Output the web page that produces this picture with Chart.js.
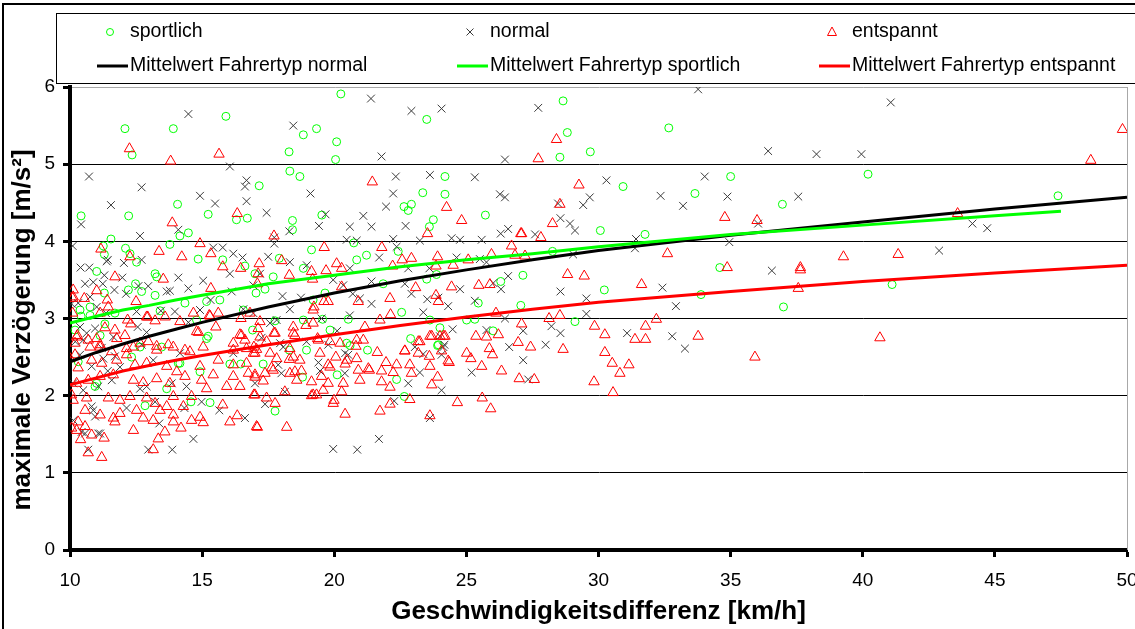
<!DOCTYPE html>
<html>
<head>
<meta charset="utf-8">
<script src="https://cdn.jsdelivr.net/npm/chart.js@4.4.1/dist/chart.umd.min.js"></script>
<style>
html, body { margin: 0; padding: 0; background: #fff; }
#wrap { position: relative; width: 1135px; height: 629px; overflow: hidden; }
#frame { position: absolute; left: 2px; top: 3px; width: 1200px; height: 700px; border: 2px solid #000; pointer-events: none; }
</style>
</head>
<body>
<div id="wrap">
  <canvas id="chart" width="1135" height="629"></canvas>
  <div id="frame"></div>
</div>
<script>
// measured points [x = Geschwindigkeitsdifferenz, y = maximale Verzoegerung]
const sportlich = [
  [10.19,2.85],[10.38,3.11],[10.42,4.33],[10.76,3.15],[11.01,3.61],[11.01,2.16],[11.14,2.78],[11.26,3.94],[11.30,3.33],[11.55,4.03],
  [12.08,5.46],[12.10,3.91],[12.21,3.37],[12.22,4.33],[12.27,3.84],[12.33,2.50],[12.35,5.12],[12.48,3.45],[12.52,3.73],[12.65,2.63],
  [12.71,3.35],[12.84,1.87],[13.22,3.58],[13.22,3.30],[13.28,3.54],[13.41,3.10],[13.66,2.09],[13.78,3.96],[13.91,5.46],[14.07,4.48],
  [14.16,4.07],[14.16,2.42],[14.35,3.20],[14.48,4.11],[14.58,1.92],[14.79,2.98],[14.85,3.77],[14.92,2.31],[15.17,3.22],[15.17,2.74],
  [15.23,4.35],[15.30,1.91],[15.67,3.24],[15.78,3.76],[15.90,5.62],[16.05,2.41],[16.30,4.28],[16.46,2.41],[16.56,3.11],[16.62,3.68],
  [16.71,4.30],[17.04,3.33],[17.16,4.72],[17.31,2.41],[17.38,3.38],[17.69,3.54],[17.76,2.97],[17.76,1.80],[17.92,3.78],[18.29,5.16],
  [18.30,2.59],[18.32,4.91],[18.42,4.27],[18.42,4.15],[18.70,4.84],[18.80,2.24],[18.83,5.38],[18.83,3.65],[18.83,2.98],[18.95,2.59],
  [19.14,3.89],[19.20,3.24],[19.33,5.46],[19.53,4.34],[19.56,2.99],[19.65,3.33],[19.84,2.85],[20.05,5.06],[20.09,5.29],[20.11,2.27],
  [20.25,5.91],[20.47,2.68],[20.53,2.99],[20.60,2.65],[20.74,3.98],[20.85,3.76],[21.22,3.82],[21.26,2.59],[21.85,3.45],[22.36,2.21],
  [22.42,3.87],[22.55,3.08],[22.64,4.45],[22.65,1.99],[22.80,4.40],[22.89,2.74],[22.92,4.48],[23.35,4.63],[23.50,5.58],[23.50,3.51],
  [23.60,4.19],[23.62,2.98],[23.75,4.28],[23.87,3.57],[23.91,2.65],[24.00,2.88],[24.19,4.84],[24.19,4.61],[25.01,2.98],[25.32,2.99],
  [25.45,3.20],[25.72,4.34],[26.01,2.84],[26.30,3.48],[27.06,3.17],[27.14,3.56],[28.26,3.87],[28.54,5.09],[28.66,5.82],[28.82,5.41],
  [29.11,2.96],[29.69,5.16],[30.07,4.14],[30.22,3.37],[30.93,4.71],[31.76,4.09],[32.66,5.47],[33.65,4.62],[33.88,3.31],[34.59,3.66],
  [35.00,4.84],[36.96,4.48],[37.00,3.15],[40.20,4.87],[41.11,3.44],[47.39,4.59],
  [10.31,2.44],[10.95,2.12],[13.47,2.63],[14.10,2.42],[11.30,3.83],[10.76,3.04],[10.42,3.03],[11.70,3.07],[11.32,2.93],[15.23,2.77],
  [17.00,3.58],[16.91,2.85],[23.94,2.66]
];

const normal = [
  [10.06,3.19],[10.10,3.94],[10.12,2.16],[10.13,1.68],[10.31,3.20],[10.38,2.89],[10.38,2.53],[10.40,3.66],[10.42,4.22],[10.44,1.53],
  [10.50,2.07],[10.57,3.45],[10.57,1.51],[10.63,2.81],[10.69,1.30],[10.72,4.84],[10.73,3.66],[10.76,3.28],[10.82,2.38],[10.82,1.86],
  [10.88,3.47],[10.88,1.81],[10.95,2.87],[10.95,1.73],[11.01,3.15],[11.07,2.12],[11.07,1.51],[11.14,1.51],[11.24,3.45],[11.26,2.48],
  [11.30,3.56],[11.36,3.07],[11.39,3.74],[11.43,3.76],[11.43,2.32],[11.55,4.47],[11.58,2.20],[11.64,2.76],[11.68,3.37],[11.70,2.51],
  [11.89,2.37],[11.98,3.53],[12.04,3.72],[12.12,3.32],[12.14,1.84],[12.52,3.09],[12.56,2.89],[12.59,3.42],[12.65,4.07],[12.65,2.09],
  [12.71,4.70],[12.71,3.76],[12.71,2.66],[12.90,2.82],[12.90,2.12],[12.96,3.42],[12.96,1.30],[13.15,2.46],[13.22,1.92],[13.38,1.64],
  [13.44,3.10],[13.66,3.35],[13.78,3.36],[13.85,2.16],[13.87,1.30],[13.97,3.09],[14.10,4.15],[14.10,3.53],[14.16,2.55],[14.33,1.84],
  [14.41,2.12],[14.48,5.65],[14.48,3.39],[14.48,2.95],[14.67,1.44],[14.92,4.59],[14.92,3.11],[14.98,1.92],[15.04,3.49],[15.32,3.24],
  [15.42,3.92],[15.49,4.49],[15.65,1.81],[15.78,3.92],[16.05,4.97],[16.05,3.58],[16.12,3.35],[16.18,3.84],[16.18,2.55],[16.53,3.79],
  [16.56,3.12],[16.62,4.71],[16.62,1.71],[16.68,4.79],[16.68,4.52],[16.94,3.43],[17.00,2.16],[17.19,3.58],[17.38,1.89],[17.44,4.37],
  [17.50,3.80],[17.57,2.94],[17.73,4.05],[17.73,3.97],[17.82,2.98],[17.88,2.40],[17.95,2.68],[18.00,2.29],[18.07,2.63],[18.13,2.05],
  [18.30,4.13],[18.32,3.12],[18.45,5.50],[18.95,2.70],[18.96,3.69],[19.10,4.62],[19.42,4.20],[19.40,2.43],[19.46,2.32],[19.52,3.00],
  [19.67,4.35],[19.77,2.66],[19.96,3.50],[19.96,1.31],[20.34,3.43],[20.40,2.29],[20.41,2.55],[20.47,4.02],[20.53,2.53],[20.59,4.19],
  [20.59,3.65],[20.59,3.04],[20.87,1.30],[20.97,3.26],[21.10,4.33],[21.39,5.85],[21.41,4.19],[21.41,3.48],[21.41,3.19],[21.69,1.44],
  [21.70,3.79],[21.79,5.10],[21.96,4.45],[22.23,4.62],[22.23,4.03],[22.27,1.93],[22.33,4.84],[22.67,3.45],[22.70,4.20],[22.80,3.65],
  [22.80,2.16],[22.92,5.69],[22.92,3.32],[23.05,2.63],[23.24,4.01],[23.24,2.30],[23.37,3.08],[23.37,2.54],[23.52,3.25],[23.60,3.65],
  [23.62,4.86],[23.62,1.71],[24.06,5.72],[24.06,2.53],[24.06,2.07],[24.13,2.63],[24.17,2.66],[24.31,3.16],[24.44,4.04],[24.48,2.86],
  [24.63,3.79],[24.76,4.02],[24.76,3.38],[25.20,2.30],[25.32,4.83],[25.32,3.23],[25.51,3.77],[25.58,4.02],[25.76,3.73],[25.76,2.85],
  [26.02,3.46],[26.27,4.61],[26.30,4.10],[26.31,3.38],[26.46,5.06],[26.46,4.57],[26.46,3.00],[26.58,4.16],[26.58,3.55],[26.62,2.63],
  [27.15,2.84],[27.15,2.46],[27.34,2.21],[27.60,4.09],[27.72,5.73],[28.00,2.66],[28.22,2.90],[28.47,4.49],[28.56,4.30],[28.56,3.35],
  [28.56,2.81],[28.92,4.23],[29.04,3.83],[29.11,4.14],[29.42,4.47],[29.54,3.26],[29.54,3.06],[29.67,4.57],[30.30,4.79],[31.08,2.81],
  [31.38,3.91],[31.42,4.03],[32.35,4.59],[32.42,3.40],[32.79,2.77],[32.93,3.16],[33.20,4.46],[33.27,2.61],[33.77,5.97],[34.02,4.84],
  [34.88,4.58],[34.95,3.99],[36.04,4.23],[36.42,5.17],[36.56,3.62],[37.56,4.58],[38.25,5.13],[39.95,5.13],[41.06,5.80],[42.89,3.88],
  [44.15,4.23],[44.71,4.17],
  [10.20,2.70],[10.50,2.72],[11.20,2.62],[20.85,4.01],[22.36,3.93],[18.32,3.73],[20.70,3.32],[18.04,3.29],[18.74,3.27],[23.94,3.27],
  [16.94,3.07],[24.00,2.77],[20.11,2.84],[17.25,2.75]
];

const entspannt = [
  [12.25,5.20],[13.81,5.04],[15.64,5.13],[21.44,4.77],[16.33,4.36],[13.87,4.24],[17.72,4.07],[14.92,3.97],[11.17,3.90],[13.37,3.87],
  [12.27,3.80],[14.23,3.80],[15.33,3.84],[19.62,3.92],[17.16,3.71],[18.01,3.75],[15.78,3.67],[16.46,3.65],[17.12,3.58],[18.30,3.56],
  [19.14,3.61],[19.69,3.62],[20.09,3.71],[20.28,3.65],[11.70,3.54],[13.53,3.51],[15.33,3.39],[10.12,3.37],[10.10,3.26],[10.54,3.26],
  [11.01,3.36],[11.41,3.24],[11.45,3.15],[12.50,3.22],[13.60,3.02],[15.30,3.03],[16.47,3.00],[19.20,3.11],[19.61,3.22],[20.91,3.22],
  [10.10,3.07],[12.18,2.98],[13.22,2.97],[14.16,2.96],[14.79,2.83],[15.52,2.89],[16.43,2.79],[17.12,2.87],[17.72,2.81],[18.45,2.89],
  [18.93,2.91],[19.37,2.74],[20.22,2.68],[10.25,2.76],[12.08,2.78],[15.04,2.63],
  [14.67,3.07],[15.61,3.07],[16.81,3.07],[19.77,3.22],[11.14,3.07],[12.90,3.02],[16.62,2.72],[17.19,2.76],[19.20,2.94],[20.85,2.72],
  [21.16,2.89],[10.69,2.72],[11.01,2.74],[11.14,2.63],[11.77,2.74],[12.40,2.63],[12.96,2.70],[13.28,2.64],[13.72,2.66],[14.35,2.59],
  [16.18,2.59],[17.06,2.60],
  [11.20,1.20],[13.15,1.30],[10.69,1.26],[10.40,1.43],[11.29,1.45],[13.34,1.44],[13.59,1.53],[14.20,1.58],[12.40,1.55],[10.82,1.49],
  [10.06,1.58],[10.31,1.66],[11.70,1.66],[13.15,1.68],[13.91,1.66],[14.60,1.68],[14.92,1.72],[15.04,1.65],[16.05,1.66],[16.33,1.74],
  [17.09,1.59],[18.20,1.59],[20.41,1.76],[11.14,1.75],[11.89,1.77],[12.52,1.81],[13.41,1.81],[10.57,1.81],[10.12,1.94],[10.06,2.01],
  [11.45,1.97],[12.27,1.99],[12.90,1.97],[13.91,1.99],[15.17,2.09],[15.78,1.88],[16.43,2.12],[17.00,2.01],[17.44,1.97],[17.76,1.90],
  [18.13,2.05],[19.20,2.01],[19.58,2.07],[19.77,2.16],[19.96,1.90],[10.69,2.20],[13.28,2.22],[14.98,2.20],[16.75,2.29],[17.63,2.36],
  [19.14,2.18],[19.77,2.40],[21.29,2.35],[10.00,2.48],[10.31,2.36],[11.20,2.42],[12.46,2.40],[16.18,2.40],[16.94,2.55],[10.76,2.63],
  [12.14,2.61],
  [10.25,1.55],[10.57,1.60],[11.64,1.71],[12.77,1.71],[13.66,1.86],[13.91,1.75],[14.29,1.86],[10.63,1.97],[11.89,1.94],[13.22,1.90],
  [14.60,1.99],[15.93,2.12],[19.33,2.01],[20.97,2.20],[10.25,2.16],[11.14,2.25],[11.64,2.27],[12.40,2.20],[12.77,2.17],[13.78,2.16],
  [14.35,2.25],[15.42,2.27],[16.18,2.25],[17.00,2.24],[17.38,2.29],[18.32,2.29],[18.51,2.31],[19.52,2.25],[20.91,2.33],[10.19,2.53],
  [10.82,2.46],[11.77,2.46],[12.14,2.53],[12.90,2.42],[13.66,2.38],[14.04,2.31],[14.92,2.38],[15.61,2.46],[16.68,2.42],[17.82,2.48],
  [18.45,2.50],[18.70,2.46],[19.46,2.55],[20.47,2.46],[20.85,2.48],[10.19,2.68],[11.14,2.66],[11.58,2.57],[12.65,2.68],[13.28,2.59],
  [13.91,2.63],[14.54,2.57],[16.18,2.68],[16.68,2.61],[17.44,2.70],[18.32,2.61],
  [17.06,1.60],[21.73,1.80],[23.62,1.74],[19.99,1.94],[22.11,1.89],[22.86,1.95],[16.96,2.01],[19.14,2.00],[20.28,2.05],[20.34,2.16],
  [17.31,2.19],[17.69,2.33],[18.30,2.47],[18.76,2.32],[19.84,2.37],[20.06,2.50],[20.41,2.41],[19.40,2.72],[19.84,2.70],[20.82,2.64],
  [21.10,2.72],[21.33,2.33],[21.63,2.56],[21.79,2.32],[21.79,2.18],[21.96,2.43],[22.36,2.40],[22.11,2.11],[22.67,2.58],[22.86,2.40],
  [23.18,2.55],[23.18,2.70],[23.60,2.51],[23.69,2.14],[23.91,2.24],[17.57,2.55],[17.00,2.55],[17.76,2.81],[18.45,2.81],[16.96,2.63],
  [17.00,2.27],[18.58,2.20],[22.23,2.30],[22.92,2.29],[23.62,2.38],[24.06,2.58],[24.31,2.45],[23.69,2.77],[24.13,2.77],
  [27.09,4.10],[27.82,4.05],[26.71,3.94],[26.84,3.82],[27.22,3.81],[25.95,3.83],[24.50,3.69],[32.61,3.84],[28.83,3.57],[29.46,3.55],
  [31.63,3.44],[24.44,3.41],[25.47,3.43],[25.89,3.44],[26.12,3.07],[28.13,3.00],[28.54,3.04],[32.19,2.99],[27.09,2.93],[29.85,2.90],
  [31.78,2.90],[30.24,2.79],[31.38,2.73],[31.78,2.73],[33.77,2.77],[25.36,2.77],[25.76,2.76],[26.21,2.79],[24.19,2.77],[26.96,2.69],
  [27.43,2.63],[28.66,2.60],[25.87,2.61],[25.01,2.55],[25.17,2.48],[25.99,2.53],[30.24,2.56],[24.35,2.43],[25.58,2.38],[26.33,2.32],
  [30.52,2.42],[31.15,2.40],[30.81,2.29],[27.00,2.22],[27.57,2.21],[29.83,2.18],[30.55,2.04],[24.66,1.91],[25.60,1.97],[25.92,1.83],
  [49.83,5.45],[48.63,5.05],[36.00,4.27],[43.59,4.36],[39.27,3.80],[41.34,3.83],[37.64,3.66],[37.64,3.63],[37.56,3.39],[40.65,2.75],
  [35.92,2.50],
  [28.41,5.32],[27.72,5.07],[29.26,4.73],[24.25,4.44],[24.82,4.27],[28.26,4.23],[28.54,4.48],[34.78,4.31],[23.53,4.10],[27.06,4.10],
  [21.80,3.92],[22.57,3.76],[22.92,3.78],[22.21,3.68],[23.91,3.80],[23.85,3.68],[25.07,3.76],[34.87,3.66],[23.08,3.40],[22.11,3.26],
  [23.85,3.30],[23.94,3.22],[21.73,2.98],[22.13,3.05],[23.24,2.70],[23.62,2.77],[24.00,2.77],[22.67,2.58],
  [10.12,3.28],[11.32,2.88],[11.70,2.85],[12.30,2.93],[12.94,3.02],[15.27,3.04],[10.28,2.78],[14.86,2.82],[16.49,2.78],
  [19.18,3.51],[20.28,3.41],[17.09,3.45],[19.23,3.15],[17.19,2.96],[18.51,2.78]
];

// mean curves
const normalMeanX = [10, 11, 12, 13, 14, 15, 17.5, 20, 22.5, 25, 27.5, 30, 35, 40, 45, 50];
const normalMeanY = [2.44, 2.56, 2.67, 2.77, 2.86, 2.95, 3.15, 3.33, 3.49, 3.63, 3.76, 3.88, 4.08, 4.25, 4.42, 4.57];
const sportMeanX = [10, 11, 12, 13, 14, 15, 17.5, 20, 22.5, 25, 27.5, 30, 35, 40, 45, 47.5];
const sportMeanY = [2.94, 3.03, 3.11, 3.17, 3.24, 3.30, 3.45, 3.56, 3.67, 3.76, 3.84, 3.93, 4.09, 4.21, 4.33, 4.39];
const entsMeanX = [10, 11, 12, 13, 14, 15, 17.5, 20, 22.5, 25, 27.5, 30, 35, 40, 45, 50];
const entsMeanY = [2.14, 2.23, 2.32, 2.39, 2.46, 2.52, 2.66, 2.79, 2.91, 3.02, 3.12, 3.21, 3.35, 3.48, 3.59, 3.69];

const xTicks = [10, 15, 20, 25, 30, 35, 40, 45, 50];
const yTicks = [0, 1, 2, 3, 4, 5, 6];

const GREEN = '#00ff00';
const RED = '#ff0000';
const GREY = '#3a3a3a';
const FONT = "'Liberation Sans', Arial, sans-serif";

function pts(arr) { return arr.map(p => ({ x: p[0], y: p[1] })); }
function curve(xs, ys) { return xs.map((x, i) => ({ x: x, y: ys[i] })); }

Chart.defaults.font.family = FONT;
Chart.defaults.color = '#000';

// grey right edge of the plot area and the rotated y title
const plotFrame = {
  id: 'plotFrame',
  beforeDatasetsDraw(chart) {
    const { ctx, chartArea: a } = chart;
    ctx.save();
    ctx.strokeStyle = '#a8a8a8';
    ctx.lineWidth = 1;
    ctx.beginPath();
    ctx.moveTo(a.right + 0.5, a.top);
    ctx.lineTo(a.right + 0.5, a.bottom);
    ctx.stroke();

    ctx.translate(23, 330);
    ctx.rotate(-Math.PI / 2);
    ctx.font = "bold 26px " + FONT;
    ctx.fillStyle = '#000';
    ctx.textAlign = 'center';
    ctx.textBaseline = 'middle';
    ctx.fillText('maximale Verzögerung [m/s²]', 0, 0);
    ctx.restore();
  }
};

function marker(ctx, kind, x, y) {
  ctx.lineWidth = 1;
  ctx.beginPath();
  if (kind === 'circle') {
    ctx.strokeStyle = GREEN;
    ctx.arc(x, y, 3.5, 0, Math.PI * 2);
  } else if (kind === 'cross') {
    ctx.strokeStyle = GREY;
    ctx.moveTo(x - 3.5, y - 3.5); ctx.lineTo(x + 3.5, y + 3.5);
    ctx.moveTo(x + 3.5, y - 3.5); ctx.lineTo(x - 3.5, y + 3.5);
  } else {
    ctx.strokeStyle = RED;
    ctx.moveTo(x, y - 5); ctx.lineTo(x + 4.5, y + 3.5); ctx.lineTo(x - 4.5, y + 3.5); ctx.closePath();
  }
  ctx.stroke();
}

const legendBox = {
  id: 'legendBox',
  afterDraw(chart) {
    const ctx = chart.ctx;
    ctx.save();
    ctx.strokeStyle = '#000';
    ctx.lineWidth = 1;
    ctx.strokeRect(56.5, 13.5, 1100, 70);
    ctx.font = "19.5px " + FONT;
    ctx.fillStyle = '#000';
    ctx.textBaseline = 'middle';
    const cols = [130, 490, 852];
    const row1 = 32, row2 = 66;
    const top = [['circle', 'sportlich'], ['cross', 'normal'], ['triangle', 'entspannt']];
    top.forEach((it, i) => {
      marker(ctx, it[0], cols[i] - 20, row1);
      ctx.fillText(it[1], cols[i], row1);
    });
    const bottom = [['#000', 'Mittelwert Fahrertyp normal'], [GREEN, 'Mittelwert Fahrertyp sportlich'], [RED, 'Mittelwert Fahrertyp entspannt']];
    bottom.forEach((it, i) => {
      ctx.strokeStyle = it[0];
      ctx.lineWidth = 3;
      ctx.beginPath();
      ctx.moveTo(cols[i] - 33, row2);
      ctx.lineTo(cols[i] - 2, row2);
      ctx.stroke();
      ctx.fillText(it[1], cols[i], row2);
    });
    ctx.restore();
  }
};

new Chart(document.getElementById('chart'), {
  type: 'scatter',
  data: {
    datasets: [
      { label: 'Mittelwert Fahrertyp entspannt', data: curve(entsMeanX, entsMeanY), showLine: true, borderColor: RED, borderWidth: 3, pointRadius: 0, order: 0 },
      { label: 'Mittelwert Fahrertyp sportlich', data: curve(sportMeanX, sportMeanY), showLine: true, borderColor: GREEN, borderWidth: 3, pointRadius: 0, order: 1 },
      { label: 'Mittelwert Fahrertyp normal', data: curve(normalMeanX, normalMeanY), showLine: true, borderColor: '#000', borderWidth: 3, pointRadius: 0, order: 2 },
      { label: 'entspannt', data: pts(entspannt), pointStyle: 'triangle', radius: 6, borderColor: RED, backgroundColor: 'rgba(0,0,0,0)', borderWidth: 1, order: 3 },
      { label: 'normal', data: pts(normal), pointStyle: 'crossRot', radius: 5.5, borderColor: GREY, backgroundColor: 'rgba(0,0,0,0)', borderWidth: 1, order: 4 },
      { label: 'sportlich', data: pts(sportlich), pointStyle: 'circle', radius: 4, borderColor: GREEN, backgroundColor: 'rgba(0,0,0,0)', borderWidth: 1, order: 5 }
    ]
  },
  options: {
    responsive: false,
    animation: false,
    devicePixelRatio: 1,
    layout: { padding: { left: 0, top: 87, right: 8, bottom: 0 } },
    plugins: { legend: { display: false }, tooltip: { enabled: false } },
    scales: {
      x: {
        type: 'linear',
        min: 10,
        max: 50,
        afterBuildTicks(s) { s.ticks = xTicks.map(v => ({ value: v })); },
        ticks: { color: '#000', font: { size: 19 }, padding: 12, maxRotation: 0 },
        grid: { drawOnChartArea: false, drawTicks: true, tickLength: 7, tickWidth: 3, tickColor: '#000' },
        border: { display: true, color: '#000', width: 4 },
        title: { display: true, text: 'Geschwindigkeitsdifferenz [km/h]', color: '#000', font: { size: 26, weight: 'bold' }, padding: { top: 0, bottom: 2 } },
        afterFit(s) { s.height = 79; s.paddingLeft = 0; s.paddingRight = 0; }
      },
      y: {
        min: 0,
        max: 6,
        afterBuildTicks(s) { s.ticks = yTicks.map(v => ({ value: v })); },
        ticks: { color: '#000', font: { size: 19 }, padding: 8 },
        grid: {
          color: c => (c.tick && c.tick.value === 6 ? '#a8a8a8' : '#000'),
          lineWidth: 1,
          tickLength: 7,
          tickWidth: 3,
          tickColor: '#000'
        },
        border: { display: true, color: '#000', width: 4 },
        title: { display: false },
        afterFit(s) { s.width = 70; s.paddingTop = 0; s.paddingBottom = 0; }
      }
    }
  },
  plugins: [plotFrame, legendBox]
});
</script>
</body>
</html>
